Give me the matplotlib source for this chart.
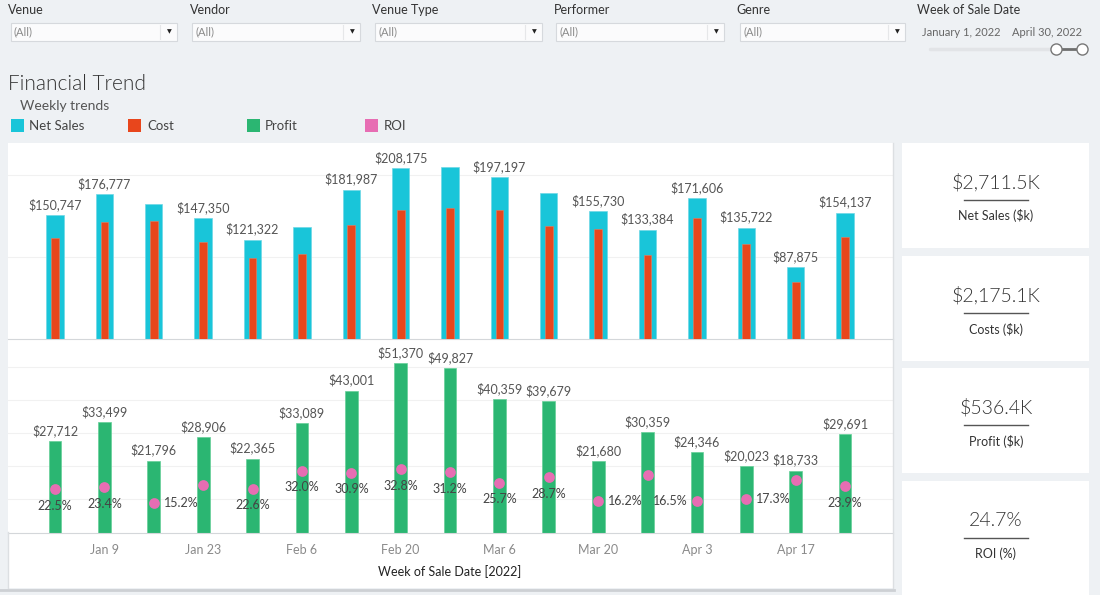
import matplotlib
matplotlib.use('Agg')
import matplotlib.pyplot as plt
from matplotlib.patches import Rectangle
from matplotlib.lines import Line2D
import pandas as pd

plt.rcParams['font.family'] = ['Lato', 'DejaVu Sans']

# weekly data (week of sale date, 2022)
weeks = pd.to_datetime(['2022-01-02', '2022-01-09', '2022-01-16', '2022-01-23', '2022-01-30',
                        '2022-02-06', '2022-02-13', '2022-02-20', '2022-02-27', '2022-03-06',
                        '2022-03-13', '2022-03-20', '2022-03-27', '2022-04-03', '2022-04-10',
                        '2022-04-17', '2022-04-24'])
net_sales = [150747, 176777, 165191, 147350, 121322, 136492, 181987, 208175, 209529,
             197197, 177933, 155730, 133384, 171606, 135722, 87875, 154137]
profit = [27712, 33499, 21796, 28906, 22365, 33089, 43001, 51370, 49827,
          40359, 39679, 21680, 30359, 24346, 20023, 18733, 29691]
roi = [0.225, 0.234, 0.152, 0.244, 0.226, 0.320, 0.309, 0.328, 0.312,
       0.257, 0.287, 0.162, 0.295, 0.165, 0.173, 0.271, 0.239]
cost = [s - p for s, p in zip(net_sales, profit)]

# which weeks carry a net sales label, and where the ROI label goes
sales_labeled = [0, 1, 3, 4, 6, 7, 9, 11, 12, 13, 14, 15, 16]
roi_label_pos = ['below', 'below', 'right', None, 'below', 'below', 'below', 'below', 'below',
                 'below', 'below', 'right', None, 'left', 'right', None, 'below']
tick_weeks = weeks[1::2]

kpi_values = ['$2,711.5K', '$2,175.1K', '$536.4K', '24.7%']
kpi_names = ['Net Sales ($k)', 'Costs ($k)', 'Profit ($k)', 'ROI (%)']
filter_names = ['Venue', 'Vendor', 'Venue Type', 'Performer', 'Genre']

BG = '#eef1f4'
CYAN = '#19c5d9'
RED = '#e8461c'
GREEN = '#2bb672'
PINK = '#e76db3'

W, H = 1100, 595
fig = plt.figure(figsize=(11, 5.95), dpi=100, facecolor=BG)


def box(x0, y0, x1, y1):
    return [x0 / W, 1 - y1 / H, (x1 - x0) / W, (y1 - y0) / H]


def fig_rect(x0, y0, x1, y1, **kw):
    fig.add_artist(Rectangle((x0 / W, 1 - y1 / H), (x1 - x0) / W, (y1 - y0) / H,
                             transform=fig.transFigure, **kw))


def fig_line(xs, ys, **kw):
    fig.add_artist(Line2D([x / W for x in xs], [1 - y / H for y in ys],
                          transform=fig.transFigure, **kw))


def fig_text(x, y, s, **kw):
    fig.text(x / W, 1 - y / H, s, **kw)


# filters row
filter_label_x = [7.7, 189.5, 372, 553.5, 736]
filter_boxes = [(10.5, 177), (192, 360), (374.7, 542), (556, 724), (739.5, 905)]
for name, lx, (bx0, bx1) in zip(filter_names, filter_label_x, filter_boxes):
    fig_text(lx, 10, name, fontsize=9, color='#333333', va='center')
    fig_rect(bx0, 22.7, bx1, 40.7, facecolor='#fbfbfc', edgecolor='#d6d9dd', lw=0.8)
    fig_text(bx0 + 3.5, 32, '(All)', fontsize=8, color='#8a8a8a', va='center')
    fig_line([bx1 - 17, bx1 - 17], [24.5, 39], color='#e6e7e9', lw=0.8)
    fig_text(bx1 - 8, 31.5, '▼', fontsize=4.5, color='#222222', ha='center', va='center',
             family=['DejaVu Sans'])

fig_text(917, 10, 'Week of Sale Date', fontsize=9, color='#333333', va='center')
fig_text(922, 32, 'January 1, 2022', fontsize=8, color='#666666', va='center')
fig_text(1012, 32, 'April 30, 2022', fontsize=8, color='#666666', va='center')
fig_line([930, 1052], [49.3, 49.3], color='#e2e4e7', lw=2.5, solid_capstyle='round')
fig_line([1057, 1081], [49.3, 49.3], color='#6f6f6f', lw=2)
fig_line([1056], [49.3], marker='o', ms=8, mfc='white', mec='#777777', mew=1)
fig_line([1082], [49.3], marker='o', ms=8, mfc='white', mec='#777777', mew=1)

# title and legend
fig_text(7.7, 84, 'Financial Trend', fontsize=15, color='#333333', va='center', weight=300)
fig_text(20.4, 106, 'Weekly trends', fontsize=10, color='#555555', va='center')
legend_items = [('Net Sales', CYAN, 10.5, 28.8), ('Cost', RED, 128, 147.4),
                ('Profit', GREEN, 246.7, 265), ('ROI', PINK, 365, 383.5)]
for label, col, sx, tx in legend_items:
    fig_rect(sx, 119, sx + 13, 132, facecolor=col, edgecolor='none')
    fig_text(tx, 126, label, fontsize=9.5, color='#444444', va='center')

# white chart container
fig_rect(8, 143, 893, 588, facecolor='white', edgecolor='none', zorder=-1)
fig_line([893, 893], [143, 588], color='#dcdfe2', lw=1)
fig_line([7.5, 7.5], [532, 588], color='#dcdfe2', lw=1)
fig_line([0, 894], [589.5, 589.5], color='#cdd0d4', lw=2)

xmin = weeks[0] - pd.Timedelta(days=6.67)
xmax = weeks[-1] + pd.Timedelta(days=6.8)

# top panel: net sales and cost
ax1 = fig.add_axes(box(8, 143, 893, 339))
ax1.set_facecolor('none')
ax1.bar(weeks, net_sales, width=2.46, color=CYAN, edgecolor='#6fd8e6', lw=0.5, zorder=2)
ax1.bar(weeks, cost, width=1.1, color=RED, edgecolor='#f07a5a', lw=0.4, zorder=3)
for i in sales_labeled:
    ax1.annotate(f'${net_sales[i]:,}', (weeks[i], net_sales[i]), xytext=(0, 3),
                 textcoords='offset points', ha='center', va='bottom', fontsize=9,
                 color='#555555', annotation_clip=False)
ax1.set_xlim(xmin, xmax)
ax1.set_ylim(0, 239000)
ax1.set_yticks([100000, 200000])
ax1.grid(axis='y', color='#f1f1f1', lw=0.8)
ax1.set_axisbelow(True)
ax1.tick_params(left=False, labelleft=False, bottom=False, labelbottom=False)
for side in ['top', 'left', 'right']:
    ax1.spines[side].set_visible(False)
ax1.spines['bottom'].set_color('#d4d7da')

# bottom panel: profit bars with ROI dots on a second axis
ax2 = fig.add_axes(box(8, 339, 893, 532.5))
ax2.set_facecolor('none')
ax2.bar(weeks, profit, width=1.8, color=GREEN, edgecolor='#66cf98', lw=0.5, zorder=2)
for i in range(len(weeks)):
    ax2.annotate(f'${profit[i]:,}', (weeks[i], profit[i]), xytext=(0, 3),
                 textcoords='offset points', ha='center', va='bottom', fontsize=9,
                 color='#555555', annotation_clip=False)
ax2.set_xlim(xmin, xmax)
ax2.set_ylim(0, 58600)
ax2.set_yticks([10000, 20000, 30000, 40000, 50000])
ax2.grid(axis='y', color='#f1f1f1', lw=0.8)
ax2.set_axisbelow(True)
ax2.set_xticks(tick_weeks)
ax2.set_xticklabels([f'{d:%b} {d.day}' for d in tick_weeks])

ax3 = ax2.twinx()
ax3.set_ylim(0, 1)
ax3.scatter(weeks, roi, s=60, color=PINK, zorder=4, linewidths=0)
for i, pos in enumerate(roi_label_pos):
    if pos is None:
        continue
    txt = f'{roi[i] * 100:.1f}%'
    if pos == 'below':
        off, ha = (0, -12), 'center'
    elif pos == 'right':
        off, ha = (7, 0), 'left'
    else:
        off, ha = (-6.5, 0), 'right'
    ax3.annotate(txt, (weeks[i], roi[i]), xytext=off, textcoords='offset points',
                 ha=ha, va='center', fontsize=9, color='#444444')
ax3.set_yticks([])
ax3.tick_params(right=False, labelright=False)
for side in ax3.spines:
    ax3.spines[side].set_visible(False)

# tick setup after twinx, which turns the left ticks back on
ax2.tick_params(axis='x', length=0, pad=8, labelsize=9, labelcolor='#8a8a8a')
ax2.tick_params(axis='y', left=False, labelleft=False, right=False, labelright=False)
for side in ['top', 'left', 'right']:
    ax2.spines[side].set_visible(False)
ax2.spines['bottom'].set_color('#d4d7da')

fig_text(450, 572, 'Week of Sale Date [2022]', fontsize=9, color='#222222',
         ha='center', va='center')

# KPI cards
card_rows = [(143, 248), (256, 361), (368, 473), (481, 595)]
for val, name, (top, bottom) in zip(kpi_values, kpi_names, card_rows):
    fig_rect(902, top, 1089, bottom, facecolor='white', edgecolor='none', zorder=-1)
    fig_text(996, top + 39, val, fontsize=14, color='#333333', ha='center', va='center',
             weight=300)
    fig_line([964, 1028], [top + 57, top + 57], color='#555555', lw=1)
    fig_text(996, top + 73, name, fontsize=9, color='#333333', ha='center', va='center')

fig.savefig('out.png', dpi=100, facecolor=BG)
